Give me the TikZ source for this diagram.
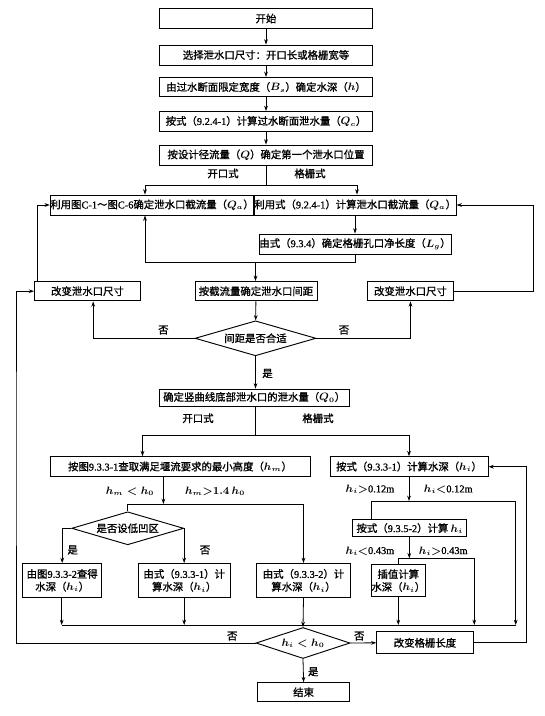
\documentclass[tikz,border=0pt]{standalone}
\usepackage{fontspec}
\setmainfont{Noto Sans CJK SC}[FakeBold=1.1]
\newfontfamily\lat{Liberation Serif}[FakeBold=0.8]
\newcommand\nm[1]{{\lat #1}}
\usetikzlibrary{arrows.meta,shapes.geometric,calc}
\begin{document}
\begin{tikzpicture}[x=0.75pt,y=-0.75pt,
  fs/.style={font=\fontsize{7.8}{9.6}\selectfont\boldmath},
  box/.style={draw,line width=0.7pt,inner sep=0pt,align=center,fs},
  wh/.style 2 args={minimum width=#1*0.75pt,minimum height=#2*0.75pt},
  dia/.style={draw,diamond,line width=0.7pt,inner sep=0pt,align=center,fs},
  lbl/.style={inner sep=0pt,fs},
  arr/.style={line width=0.6pt,-{Stealth[length=4pt,width=2.8pt]}},
  ln/.style={line width=0.6pt}]
\fill[white] (0,0) rectangle (545,716);
\useasboundingbox (0,0) rectangle (545,716);

% top column
\node[box,wh={213}{20}] (start) at (266,18.5) {开始};
\node[box,wh={213}{20}] (sel) at (266,55) {选择泄水口尺寸：开口长或格栅宽等};
\node[box,wh={213}{19.5}] (bs) at (266,87.2) {由过水断面限定宽度（$B_s$）确定水深（$h$）};
\node[box,wh={213}{20}] (qc) at (266,121.5) {按式（\nm{9.2.4-1}）计算过水断面泄水量（$Q_c$）};
\node[box,wh={213}{20}] (pos) at (266,155) {按设计径流量（$Q$）确定第一个泄水口位置};
\node[lbl] (t1) at (223,173.5) {开口式};
\node[lbl] (t2) at (310,173.5) {格栅式};

% second row
\node[box,wh={198}{20}] (leftQ) at (152,205) {利用图\nm{C-1}～图\nm{C-6}确定泄水口截流量（$Q_a$）};
\node[box,wh={196.5}{20}] (rightQ) at (355.2,205) {利用式（\nm{9.2.4-1}）计算泄水口截流量（$Q_a$）};
\node[box,wh={192}{20}] (lg) at (355,244) {由式（\nm{9.3.4}）确定格栅孔口净长度（$L_g$）};
\node[box,wh={122}{19.5}] (jl) at (256,291.2) {按截流量确定泄水口间距};
\node[box,wh={106}{19.5}] (chgL) at (87.5,291.2) {改变泄水口尺寸};
\node[box,wh={86}{19.5}] (chgR) at (410.5,291.2) {改变泄水口尺寸};
\node[dia,wh={121}{35},shape aspect=3.46] (d1) at (255.5,338.3) {间距是否合适};
\node[lbl] (n1) at (163.4,330) {否};
\node[lbl] (n2) at (344,330) {否};
\node[lbl] (y1) at (267.5,373.5) {是};

% lower part
\node[box,wh={190}{17}] (q0) at (254.2,397.5) {确定竖曲线底部泄水口的泄水量（$Q_0$）};
\node[lbl] (t3) at (198,418.3) {开口式};
\node[lbl] (t4) at (318,418.3) {格栅式};
\node[box,wh={260}{20}] (hm) at (180,466.7) {按图\nm{9.3.3-1}查取满足堰流要求的最小高度（$h_m$）};
\node[box,wh={158}{20}] (hi) at (409,466.7) {按式（\nm{9.3.3-1}）计算水深（$h_i$）};
\node[lbl] (c1) at (130,491) {$h_m<h_0$};
\node[lbl] (c2) at (215,491) {$h_m{>}\nm{1.4}\,h_0$};
\node[dia,wh={112}{33},shape aspect=3.4] (d2) at (127.7,528.3) {是否设低凹区};
\node[lbl] (y2) at (72.7,550) {是};
\node[lbl] (n3) at (205,550) {否};
\node[box,wh={79}{34}] (b1) at (62.2,580.5) {由图\nm{9.3.3-2}查得\\水深（$h_i$）};
\node[box,wh={92}{34}] (b2) at (184.2,580.5) {由式（\nm{9.3.3-1}）计\\算水深（$h_i$）};
\node[box,wh={94}{34}] (b3) at (303.5,580.5) {由式（\nm{9.3.3-2}）计\\算水深（$h_i$）};
\node[lbl] (c3) at (370,489.3) {$h_i{>}$\nm{0.12m}};
\node[lbl] (c4) at (448.3,489.3) {$h_i{<}$\nm{0.12m}};
\node[box,wh={114}{17}] (b35) at (409.7,528.3) {按式（\nm{9.3.5-2}）计算 $h_i$};
\node[lbl] (c5) at (370,551) {$h_i{<}$\nm{0.43m}};
\node[lbl] (c6) at (443.3,551) {$h_i{>}$\nm{0.43m}};
\node[box,wh={53.3}{31.7}] (b4) at (398.3,580.8) {插值计算\\水深（$h_i$）};
\node[dia,wh={94}{31},shape aspect=3.0] (d3) at (303,643) {$h_i<h_0$};
\node[lbl] (n4) at (232.3,636) {否};
\node[lbl] (n5) at (359.3,636) {否};
\node[box,wh={96.6}{22.3}] (chgG) at (425,642.8) {改变格栅长度};
\node[lbl] (y3) at (313.3,671.7) {是};
\node[box,wh={92.7}{19}] (end) at (303.6,692.2) {结束};

% helper coordinates
\coordinate (brA) at (266,185.5);
\coordinate (xa) at (145,0);
\coordinate (xb) at (357,0);
\coordinate (jnR) at (355,262.5);
\coordinate (jnL) at (145,262.5);
\coordinate (jnM) at (255.5,262.5);
\coordinate (xc) at (37.5,0);
\coordinate (rloop) at (533.5,250);
\coordinate (lloop) at (16,450);
\coordinate (rl2) at (526.3,550);
\coordinate (brB) at (255.5,435);
\coordinate (xd) at (142.5,0);
\coordinate (hmj) at (163.4,504);
\coordinate (hmL) at (127.7,504);
\coordinate (hmR) at (303.5,504);
\coordinate (hij) at (409,501);
\coordinate (hiL) at (371,501);
\coordinate (hiR) at (515.7,501);
\coordinate (bj) at (409.3,558.3);
\coordinate (bjL) at (398.3,558.3);
\coordinate (bjR) at (474.3,558.3);
\coordinate (busL) at (61.7,625);
\coordinate (busR) at (515.7,625);

% connectors top
\draw[arr] (start) -- (sel);
\draw[arr] (sel) -- (bs);
\draw[arr] (bs) -- (qc);
\draw[arr] (qc) -- (pos);
\draw[ln] (pos.south) -- (brA);
\draw[arr] (brA) -| (leftQ.north -| xa);
\draw[arr] (brA) -| (rightQ.north -| xb);
\draw[arr] (rightQ.south -| lg.north) -- (lg.north);
\draw[ln] (lg.south) -- (jnR) -- (jnL);
\draw[arr] (jnL) -- (leftQ.south -| xa);
\draw[arr] (jnM) -- (jnM |- jl.north);
\draw[arr] (jl) -- (d1);
\draw[arr] (d1.west) -| ($(chgL.south)+(5.7,0)$);
\draw[arr] (d1.east) -| (chgR.south);
\draw[arr] (chgL.north -| xc) |- (leftQ.west);
\draw[arr] (chgR.east) -| (rloop) |- (rightQ.east);
\draw[arr] (d1.south) -- (d1.south |- q0.north);

% connectors lower
\draw[ln] (q0.south -| brB) -- (brB);
\draw[arr] (brB) -| (hm.north -| xd);
\draw[arr] (brB) -| (hi.north);
\draw[arr] (hm.south -| hmj) -- (hmj);
\draw[ln] (hmL) -- (hmR);
\draw[ln] (hmL) -- (d2.north);
\draw[arr] (hmR) -- (hmR |- b3.north);
\draw[arr] (d2.west) -| (b1.north);
\draw[arr] (d2.east) -- (d2.east |- b2.north);
\draw[arr] (hi.south) -- (hij);
\draw[ln] (hiL) -- (hiR);
\draw[ln] (hiL) -- (hiL |- b35.north);
\draw[arr] (hiR) -- (busR);
\draw[arr] (b35.south -| bj) -- (bj);
\draw[ln] (bjL) -- (bjR);
\draw[ln] (bjL) -- (b4.north);
\draw[arr] (bjR) -- (bjR |- busR);
\draw[arr] (b4.south) -- (b4.south |- busR);
\draw[ln] (busL) -- (busR);
\draw[arr] (b1.south -| busL) -- (busL);
\draw[arr] (b2.south) -- (b2.south |- busL);
\draw[arr] (b3.south) -- (d3.north);
\draw[arr] (d3.west) -| (lloop) |- (chgL.west);
\draw[arr] (d3.east) -- (chgG.west);
\draw[arr] (chgG.east) -| (rl2) |- (hi.east);
\draw[arr] (d3.south) -- (end.north);
\end{tikzpicture}
\end{document}
